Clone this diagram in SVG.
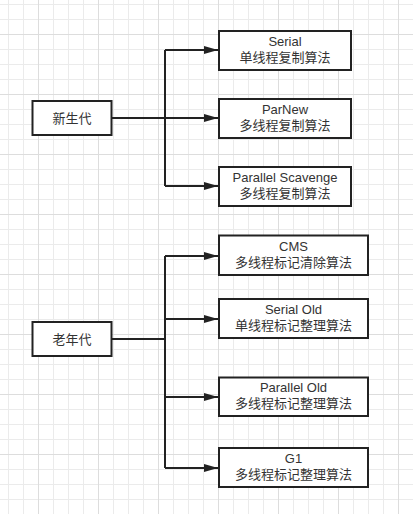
<svg xmlns="http://www.w3.org/2000/svg" width="413" height="514" viewBox="0 0 413 514">
<defs>
<pattern id="grid" patternUnits="userSpaceOnUse" x="-22" y="-26" width="60" height="60">
<path d="M15.5 0V60M30.5 0V60M45.5 0V60M0 15.5H60M0 30.5H60M0 45.5H60" stroke="#ebebeb" stroke-width="1" fill="none"/>
<path d="M0.5 0V60M0 0.5H60" stroke="#dddddd" stroke-width="1" fill="none"/>
</pattern>
<marker id="arr" markerUnits="userSpaceOnUse" markerWidth="16" markerHeight="10" refX="14" refY="4" orient="auto">
<path d="M0 0L14 4L0 8Z" fill="#222"/>
</marker>
<style>
.box{fill:#fff;stroke:#222;stroke-width:2}
.t{font-family:"Liberation Sans","Noto Sans CJK SC",sans-serif;font-size:13px;fill:#333;text-anchor:middle}
.c{fill:none;stroke:#222;stroke-width:2}
</style>
</defs>
<rect width="413" height="514" fill="#fff"/>
<rect width="413" height="514" fill="url(#grid)"/>
<g id="connectors">
<path class="c" d="M165 50V186"/>
<path class="c" d="M165 50H218" marker-end="url(#arr)"/>
<path class="c" d="M112 118H218" marker-end="url(#arr)"/>
<path class="c" d="M165 186H218" marker-end="url(#arr)"/>
<path class="c" d="M112 339H165"/>
<path class="c" d="M165 256V468"/>
<path class="c" d="M165 256H218" marker-end="url(#arr)"/>
<path class="c" d="M165 319H218" marker-end="url(#arr)"/>
<path class="c" d="M165 397H218" marker-end="url(#arr)"/>
<path class="c" d="M165 468H218" marker-end="url(#arr)"/>
</g>
<g id="young">
<rect class="box" x="32.5" y="101" width="79" height="34"/>
<text class="t" x="72" y="123">新生代</text>
</g>
<g id="serial">
<rect class="box" x="219" y="31" width="132" height="39"/>
<text class="t" x="285" y="46">Serial</text>
<text class="t" x="285" y="62">单线程复制算法</text>
</g>
<g id="parnew">
<rect class="box" x="219" y="99" width="132" height="39"/>
<text class="t" x="285" y="114">ParNew</text>
<text class="t" x="285" y="130">多线程复制算法</text>
</g>
<g id="parallel-scavenge">
<rect class="box" x="219" y="167" width="132" height="39"/>
<text class="t" x="285" y="182">Parallel Scavenge</text>
<text class="t" x="285" y="198">多线程复制算法</text>
</g>
<g id="old">
<rect class="box" x="32.5" y="322" width="79" height="34"/>
<text class="t" x="72" y="344">老年代</text>
</g>
<g id="cms">
<rect class="box" x="219" y="235.5" width="149" height="39.5"/>
<text class="t" x="293.5" y="251">CMS</text>
<text class="t" x="293.5" y="267">多线程标记清除算法</text>
</g>
<g id="serial-old">
<rect class="box" x="219" y="299" width="149" height="39"/>
<text class="t" x="293.5" y="314">Serial Old</text>
<text class="t" x="293.5" y="330">单线程标记整理算法</text>
</g>
<g id="parallel-old">
<rect class="box" x="219" y="377.5" width="149" height="38.5"/>
<text class="t" x="293.5" y="392">Parallel Old</text>
<text class="t" x="293.5" y="408">多线程标记整理算法</text>
</g>
<g id="g1">
<rect class="box" x="219" y="448" width="149" height="39"/>
<text class="t" x="293.5" y="463">G1</text>
<text class="t" x="293.5" y="479">多线程标记整理算法</text>
</g>
</svg>
